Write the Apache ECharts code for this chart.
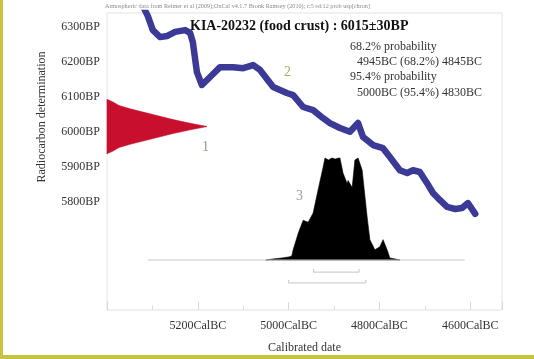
<!DOCTYPE html>
<html><head><meta charset="utf-8">
<script src="https://cdn.jsdelivr.net/npm/echarts@6/dist/echarts.min.js"></script>
<style>html,body{margin:0;padding:0;background:#fff}#chart{width:534px;height:359px}</style>
</head><body><div id="chart"></div>
<script>
// Measured radiocarbon age 6015±30 BP: relative probability at each BP value
const sampleBP   = [6093, 6085, 6075, 6065, 6055, 6045, 6035, 6025, 6015, 6005, 5995, 5985, 5975, 5965, 5955, 5945, 5937];
const sampleProb = [0, 0.06, 0.12, 0.24, 0.38, 0.52, 0.66, 0.82, 1.0, 0.82, 0.66, 0.52, 0.38, 0.24, 0.12, 0.06, 0];

// Atmospheric calibration curve (cal BC -> BP)
const curveCalBC = [5318, 5310, 5299, 5283, 5268, 5250, 5228, 5217, 5211, 5202, 5191, 5173, 5151, 5122, 5100, 5078, 5063,
  5034, 5004, 4990, 4968, 4946, 4924, 4909, 4887, 4865, 4847, 4836, 4814, 4792, 4777, 4755, 4739, 4726, 4711,
  4695, 4682, 4667, 4651, 4633, 4618, 4605, 4589];
const curveBP = [6352, 6331, 6291, 6271, 6274, 6286, 6291, 6283, 6257, 6171, 6134, 6157, 6185, 6185, 6182, 6191, 6177,
  6128, 6111, 6105, 6071, 6062, 6039, 6025, 6011, 6000, 6025, 5985, 5962, 5953, 5928, 5890, 5882, 5890, 5885,
  5853, 5825, 5805, 5785, 5779, 5782, 5796, 5765];

// Calibrated date distribution (cal BC, relative probability)
const calBC   = [5050, 5035, 5015, 5000, 4993, 4990, 4979, 4968, 4957, 4946, 4935, 4924, 4920, 4912, 4905, 4897, 4890, 4887,
  4880, 4871, 4869, 4860, 4854, 4847, 4838, 4827, 4821, 4810, 4799, 4792, 4783, 4777, 4765, 4755];
const calProb = [0, 0.01, 0.02, 0.03, 0.04, 0.1, 0.26, 0.39, 0.37, 0.46, 0.69, 0.91, 1.0, 0.98, 1.0, 0.99, 1.0, 1.0,
  0.85, 0.75, 0.78, 0.71, 0.98, 1.0, 0.88, 0.42, 0.2, 0.1, 0.13, 0.2, 0.1, 0.02, 0.01, 0];
const calBaseline = [5310, 4612];

// Highest probability ranges
const range68 = [4945, 4845];
const range95 = [5000, 4830];

// Axis tick labels
const yTicksBP = [5800, 5900, 6000, 6100, 6200, 6300];
const xTicksCalBC = [5200, 5000, 4800, 4600];

const serif = 'Liberation Serif, Times New Roman, serif';

const chart = echarts.init(document.getElementById('chart'), null, { renderer: 'canvas' });

function polygonSeries(name, xIdx, yIdx, pts, color) {
  return {
    name, type: 'custom', xAxisIndex: xIdx, yAxisIndex: yIdx, silent: true,
    data: [0],
    renderItem: function (params, api) {
      return {
        type: 'polygon',
        shape: { points: pts.map(p => api.coord(p)) },
        style: { fill: color, stroke: color, lineWidth: 0.6 }
      };
    }
  };
}

const redPts = sampleBP.map((bp, i) => [sampleProb[i], bp]);
const blackPts = [[-calBC[0], 0]].concat(calBC.map((y, i) => [-y, calProb[i]])).concat([[-calBC[calBC.length - 1], 0]]);

function bracket(r, level) {
  return [[-r[0], level + 0.03], [-r[0], level], [-r[1], level], [-r[1], level + 0.03]];
}

chart.setOption({
  backgroundColor: '#ffffff',
  animation: false,
  grid: { left: 107, top: 13, right: 32, bottom: 49, show: true, borderColor: '#e3e3e3', borderWidth: 1 },
  xAxis: [
    {
      type: 'value', min: -5400, max: -4530, interval: 200, position: 'bottom',
      axisLine: { show: false, onZero: false },
      axisTick: { show: true, inside: true, length: 8, lineStyle: { color: '#d8d8d8' } },
      minorTick: { show: true, splitNumber: 2, length: 5, lineStyle: { color: '#e0e0e0' } },
      splitLine: { show: false },
      axisLabel: {
        margin: 10, fontFamily: serif, fontSize: 12, color: '#333',
        formatter: v => xTicksCalBC.includes(-v) ? (-v) + 'CalBC' : ''
      },
      name: 'Calibrated date', nameLocation: 'middle', nameGap: 32,
      nameTextStyle: { fontFamily: serif, fontSize: 12, color: '#333' }
    },
    { type: 'value', min: 0, max: 3.95, show: false, axisLine: { onZero: false } }
  ],
  yAxis: [
    {
      type: 'value', min: 5490, max: 6340, interval: 10,
      axisLine: { show: false, onZero: false }, axisTick: { show: false }, splitLine: { show: false },
      axisLabel: {
        margin: 7, fontFamily: serif, fontSize: 12, color: '#333',
        formatter: v => yTicksBP.includes(v) ? v + 'BP' : ''
      }
    },
    { type: 'value', min: -0.49, max: 2.422, show: false, axisLine: { onZero: false } }
  ],
  series: [
    polygonSeries('sample', 1, 0, redPts, '#c8102e'),
    {
      name: 'baseline', type: 'line', xAxisIndex: 0, yAxisIndex: 1, symbol: 'none', silent: true,
      data: calBaseline.map(v => [-v, 0]),
      lineStyle: { color: '#c8c8c8', width: 1 }
    },
    polygonSeries('calibrated', 0, 1, blackPts, '#000000'),
    {
      name: 'curve', type: 'line', xAxisIndex: 0, yAxisIndex: 0, symbol: 'none', silent: true, clip: true,
      data: curveCalBC.map((c, i) => [-c, curveBP[i]]),
      lineStyle: { color: '#3b3b97', width: 6.5, join: 'round', cap: 'round' }
    },
    {
      name: 'r68', type: 'line', xAxisIndex: 0, yAxisIndex: 1, symbol: 'none', silent: true,
      data: bracket(range68, -0.118), lineStyle: { color: '#cfcfcf', width: 1.2 }
    },
    {
      name: 'r95', type: 'line', xAxisIndex: 0, yAxisIndex: 1, symbol: 'none', silent: true,
      data: bracket(range95, -0.225), lineStyle: { color: '#cfcfcf', width: 1.2 }
    }
  ],
  graphic: [
    { type: 'rect', left: 0, top: 0, shape: { width: 3, height: 359 }, style: { fill: '#c9c43f' }, z: 100 },
    { type: 'rect', left: 0, top: 355, shape: { width: 534, height: 4 }, style: { fill: '#c9c43f' }, z: 100 },
    { type: 'text', x: 105, y: 3, style: { text: 'Atmospheric data from Reimer et al (2009);OxCal v4.1.7 Bronk Ramsey (2010); r:5 sd:12 prob usp[chron]', font: '6.2px ' + serif, fill: '#8a8a8a' } },
    { type: 'text', x: 190, y: 19, style: { text: 'KIA-20232 (food crust) : 6015±30BP', font: 'bold 14px ' + serif, fill: '#111' } },
    { type: 'text', x: 350, y: 41, style: { text: '68.2% probability', font: '12px ' + serif, fill: '#333' } },
    { type: 'text', x: 357, y: 56, style: { text: '4945BC (68.2%) 4845BC', font: '12px ' + serif, fill: '#333' } },
    { type: 'text', x: 350, y: 71, style: { text: '95.4% probability', font: '12px ' + serif, fill: '#333' } },
    { type: 'text', x: 357, y: 87, style: { text: '5000BC (95.4%) 4830BC', font: '12px ' + serif, fill: '#333' } },
    { type: 'text', x: 202, y: 140, style: { text: '1', font: '14px ' + serif, fill: '#8f9a80' } },
    { type: 'text', x: 284, y: 65, style: { text: '2', font: '14px ' + serif, fill: '#a2b04a' } },
    { type: 'text', x: 296, y: 189, style: { text: '3', font: '14px ' + serif, fill: '#a0a0a0' } },
    { type: 'text', x: 42, y: 117, rotation: Math.PI / 2, style: { text: 'Radiocarbon determination', font: '12px ' + serif, fill: '#333', align: 'center', verticalAlign: 'middle' } }
  ]
});
</script>
</body></html>
